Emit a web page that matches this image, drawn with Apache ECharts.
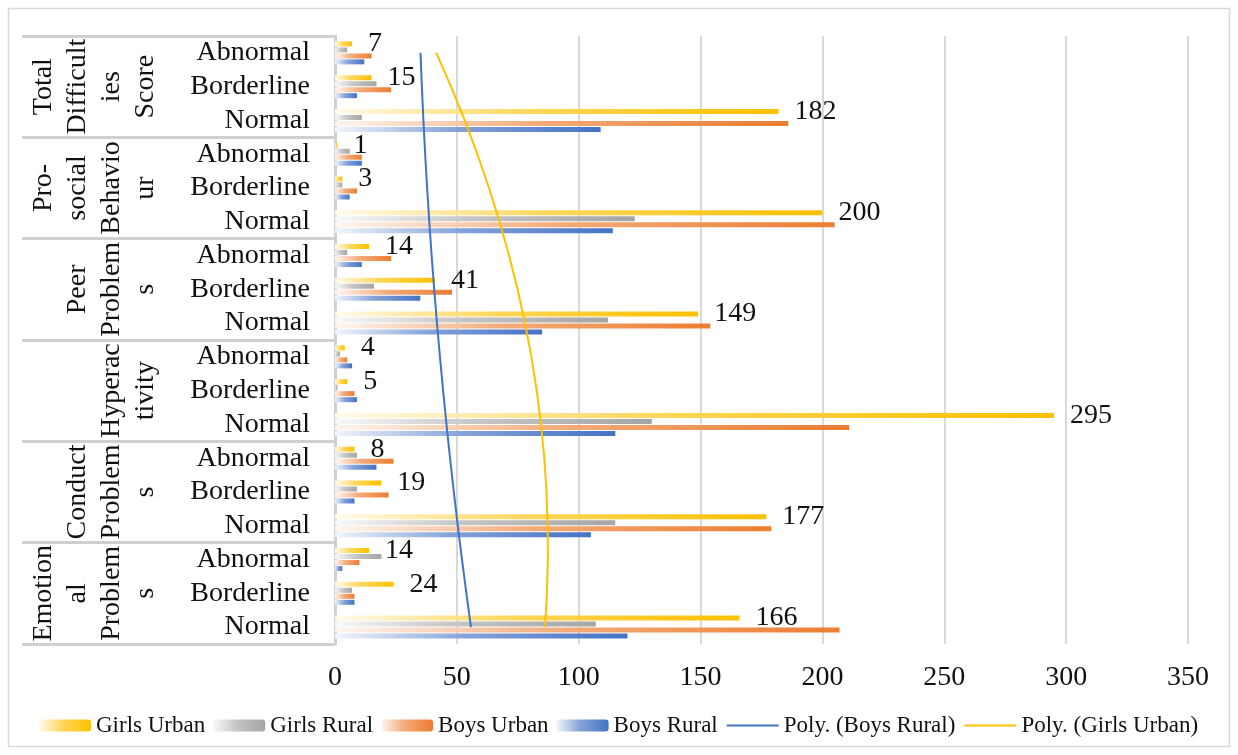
<!DOCTYPE html>
<html><head><meta charset="utf-8">
<script src="https://cdn.jsdelivr.net/npm/echarts@6/dist/echarts.min.js"></script>
<style>html,body{margin:0;padding:0;background:#fff}#chart{width:1238px;height:755px}</style>
</head><body><div id="chart"></div>
<script>
// Categories listed bottom-up (first category is drawn at the bottom)
const levels = ['Normal','Borderline','Abnormal','Normal','Borderline','Abnormal','Normal','Borderline','Abnormal',
                'Normal','Borderline','Abnormal','Normal','Borderline','Abnormal','Normal','Borderline','Abnormal'];
const groupLabels = ['Emotion\nal\nProblem\ns','Conduct\nProblem\ns','Hyperac\ntivity','Peer\nProblem\ns','Pro-\nsocial\nBehavio\nur','Total\nDifficult\nies\nScore'];
const girlsUrban = [166,24,14, 177,19,8, 295,5,4, 149,41,14, 200,3,1, 182,15,7];
const girlsRural = [107,7,19, 115,9,9, 130,1,2, 112,16,5, 123,3,6, 11,17,5];
const boysUrban  = [207,8,10, 179,22,24, 211,8,5, 154,48,23, 205,9,11, 186,23,15];
const boysRural  = [120,8,3, 105,8,17, 115,9,7, 85,35,11, 114,6,11, 109,9,12];
const seriesNames = ['Girls Urban','Girls Rural','Boys Urban','Boys Rural','Poly. (Boys Rural)','Poly. (Girls Urban)'];
const xMin = 0, xMax = 350, xStep = 50;

// Polynomial (order 2) least-squares trendline, as in the original spreadsheet
function polyTrend(ys, deg) {
  const n = ys.length, m = deg + 1;
  const A = Array.from({length: m}, () => new Array(m + 1).fill(0));
  for (let i = 0; i < n; i++) {
    const x = i + 1;
    for (let r = 0; r < m; r++) {
      for (let c = 0; c < m; c++) A[r][c] += Math.pow(x, r + c);
      A[r][m] += Math.pow(x, r) * ys[i];
    }
  }
  for (let p = 0; p < m; p++) {
    let best = p;
    for (let r = p + 1; r < m; r++) if (Math.abs(A[r][p]) > Math.abs(A[best][p])) best = r;
    [A[p], A[best]] = [A[best], A[p]];
    for (let r = 0; r < m; r++) {
      if (r === p) continue;
      const f = A[r][p] / A[p][p];
      for (let c = p; c <= m; c++) A[r][c] -= f * A[p][c];
    }
  }
  const coef = A.map((row, i) => row[m] / row[i]);
  return ys.map((_, i) => {
    const x = i + 1; let v = 0;
    for (let k = 0; k < m; k++) v += coef[k] * Math.pow(x, k);
    return +v.toFixed(3);
  });
}

function mix(hex, t) { // t = amount of white
  const r = parseInt(hex.slice(1,3),16), g = parseInt(hex.slice(3,5),16), b = parseInt(hex.slice(5,7),16);
  const f = v => Math.round(v + (255 - v) * t);
  return 'rgb(' + f(r) + ',' + f(g) + ',' + f(b) + ')';
}
function grad(hex) {
  return new echarts.graphic.LinearGradient(0, 0, 1, 0, [
    {offset: 0, color: mix(hex, 0.93)},
    {offset: 0.45, color: mix(hex, 0.35)},
    {offset: 1, color: hex}
  ]);
}

const FONT = 'Liberation Serif';
const colors = ['#FFC000', '#A5A5A5', '#ED7D31', '#4472C4'];
const barData = [girlsUrban, girlsRural, boysUrban, boysRural];

const series = barData.map((d, i) => ({
  name: seriesNames[i], type: 'bar', yAxisIndex: 0, data: d,
  barWidth: 5, barGap: '20%',
  itemStyle: {color: grad(colors[i])},
  label: i === 0 ? {show: true, position: 'right', distance: 16, fontFamily: FONT, fontSize: 28, color: '#111'} : {show: false},
  z: 2
}));
series.push({
  name: seriesNames[4], type: 'line', yAxisIndex: 0, data: polyTrend(boysRural, 2),
  symbol: 'none', lineStyle: {color: '#4472C4', width: 2}, itemStyle: {color: '#4472C4'}, z: 5
});
series.push({
  name: seriesNames[5], type: 'line', yAxisIndex: 0, data: polyTrend(girlsUrban, 2),
  symbol: 'none', lineStyle: {color: '#FFC000', width: 2}, itemStyle: {color: '#FFC000'}, z: 5
});

const legendData = seriesNames.map((n, i) => i < 4 ? {name: n} : {name: n, itemStyle: {opacity: 0}});

const chart = echarts.init(document.getElementById('chart'));
chart.setOption({
  animation: false,
  backgroundColor: '#fff',
  textStyle: {fontFamily: FONT},
  graphic: [{
    type: 'rect', shape: {x: 8.5, y: 8.5, width: 1221, height: 738},
    style: {fill: 'none', stroke: '#d9d9d9', lineWidth: 1.5}, z: -10
  }],
  grid: {left: 335, right: 50, top: 36, bottom: 111, containLabel: false},
  legend: {
    data: legendData, left: 34, top: 709,
    itemWidth: 52, itemHeight: 12, itemGap: 8,
    textStyle: {fontFamily: FONT, fontSize: 23, color: '#111'}
  },
  xAxis: {
    type: 'value', min: xMin, max: xMax, interval: xStep,
    axisLine: {show: false}, axisTick: {show: false},
    axisLabel: {fontFamily: FONT, fontSize: 28, color: '#111', margin: 20},
    splitLine: {lineStyle: {color: '#d9d9d9', width: 2}}
  },
  yAxis: [{
    type: 'category', position: 'left', data: levels,
    axisLine: {show: false}, axisTick: {show: false},
    axisLabel: {interval: 0, fontFamily: FONT, fontSize: 28, color: '#111', margin: 25}
  }, {
    type: 'category', position: 'left', data: groupLabels,
    axisLine: {show: true, lineStyle: {color: '#d0d0d0', width: 3}},
    axisTick: {show: true, interval: 0, length: 313, lineStyle: {color: '#d0d0d0', width: 3}},
    axisLabel: {interval: 0, rotate: 90, fontFamily: FONT, fontSize: 28, lineHeight: 34, color: '#111', margin: 172}
  }],
  series: series
});
</script></body></html>
